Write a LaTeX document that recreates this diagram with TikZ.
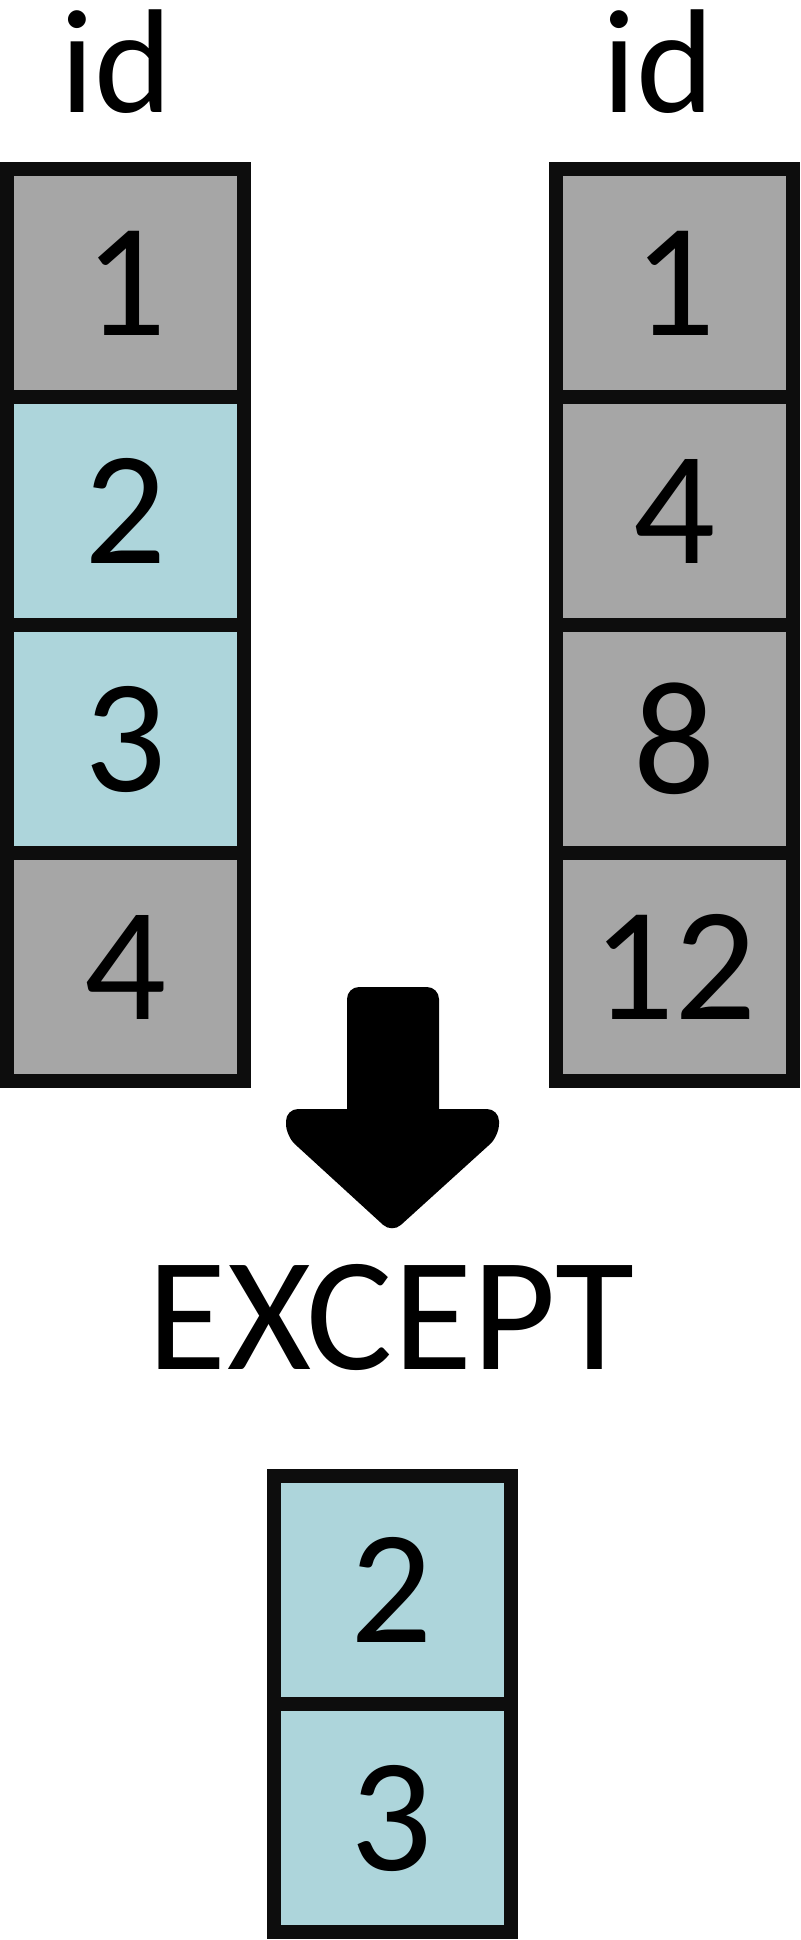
\documentclass[tikz,border=0pt]{standalone}
\usepackage{fontspec}
\setmainfont{Carlito}
\usepackage{xcolor}
\usepackage{tikz}
\usetikzlibrary{positioning}
\definecolor{cellgray}{HTML}{A6A6A6}
\definecolor{cellblue}{HTML}{ADD5DB}
\definecolor{edgeblack}{HTML}{0D0D0D}

\begin{document}
\begin{tikzpicture}[x=0.5pt,y=-0.5pt,node distance=114pt,
                    font=\fontsize{81}{90}\selectfont]
  \tikzstyle{cell}=[draw=edgeblack, line width=7pt, minimum width=118.5pt,
                    minimum height=114pt, inner sep=0pt, text=black]
  \tikzstyle{gray cell}=[cell, fill=cellgray]
  \tikzstyle{blue cell}=[cell, fill=cellblue]
  \tikzstyle{head}=[anchor=base, font=\fontsize{74}{80}\selectfont]
  \useasboundingbox (0,0) rectangle (800,1940);
  % left table
  \node[head] (idL) at (116,112) {id};
  \node[gray cell] (L1) at (125.5,283) {1};
  \node[blue cell] (L2) [below of=L1] {2};
  \node[blue cell] (L3) [below of=L2] {3};
  \node[gray cell] (L4) [below of=L3] {4};
  % right table
  \node[head] (idR) at (658,112) {id};
  \node[gray cell] (R1) at (674.5,283) {1};
  \node[gray cell] (R2) [below of=R1] {4};
  \node[gray cell] (R3) [below of=R2] {8};
  \node[gray cell] (R4) [below of=R3] {12};
  % arrow
  \fill[black, rounded corners=6pt] (347,1140) -- (347,987) -- (439,987) -- (439,1140) -- cycle;
  \fill[black, rounded corners=6pt] (286,1109) -- (499,1109) -- (499,1136)
        -- (392,1233) -- (286,1136) -- cycle;
  \node[anchor=base] (op) at (391,1369) {EXCEPT};
  % result
  \node[blue cell] (E1) at (392,1590) {2};
  \node[blue cell] (E2) [below of=E1] {3};
\end{tikzpicture}
\end{document}
